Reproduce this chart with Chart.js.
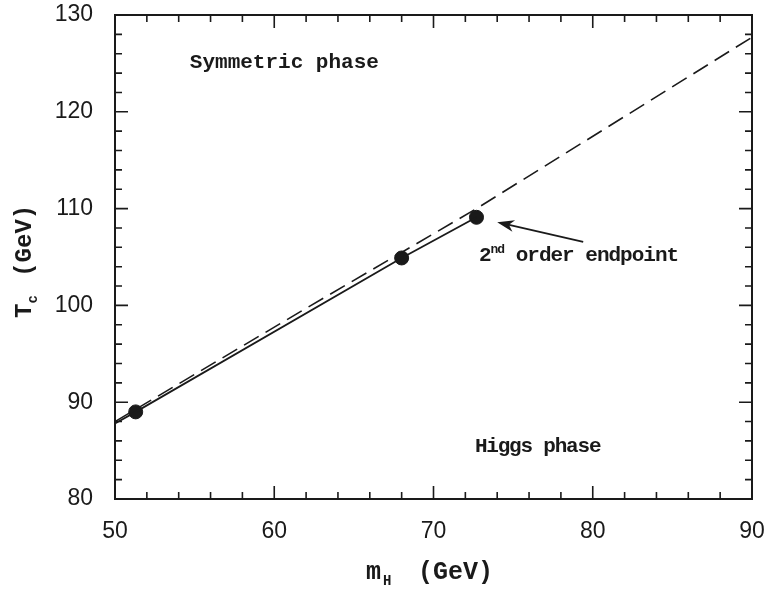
<!DOCTYPE html>
<html>
<head>
<meta charset="utf-8">
<script src="https://cdn.jsdelivr.net/npm/chart.js@4.4.1/dist/chart.umd.min.js"></script>
<style>
  html, body { margin: 0; padding: 0; background: #fff; }
  #wrap { width: 765px; height: 591px; }
</style>
</head>
<body>
<div id="wrap"><canvas id="tcChart"></canvas></div>
<script>
// critical temperature vs Higgs mass
var pointMass = [51.3, 68.0, 72.7];
var pointTc = [89.0, 104.9, 109.1];

var solidMass = [50, 51.3, 68.0, 72.7];
var solidTc = [87.8, 89.0, 104.9, 109.1];

var dashedMass = [50, 62, 72.7, 90];
var dashedTc = [88.0, 99.7, 110.0, 127.7];

var xTicks = [50, 60, 70, 80, 90];
var yTicks = [80, 90, 100, 110, 120, 130];

var labelFont = "bold 21px 'Liberation Mono', 'Courier New', monospace";
var ink = '#1a1a1a';

function toXY(xs, ys) {
     return xs.map(function (x, i) { return { x: x, y: ys[i] }; });
}

// draws text pieces one after another (for sub/superscripts)
function drawParts(ctx, parts, x, y) {
     var cx = x;
     parts.forEach(function (p) {
          ctx.font = p.font;
          ctx.fillText(p.text, cx, y + (p.dy || 0));
          cx += ctx.measureText(p.text).width + (p.gap || 0);
     });
}

var framePlugin = {
     id: 'frame',
     afterDraw: function (chart) {
          var ctx = chart.ctx;
          var a = chart.chartArea;
          var xs = chart.scales.x, ys = chart.scales.y;
          ctx.save();
          ctx.strokeStyle = ink;
          ctx.fillStyle = ink;

          // box
          ctx.lineWidth = 2;
          ctx.strokeRect(a.left, a.top, a.right - a.left, a.bottom - a.top);

          // inward ticks on all four sides
          ctx.lineWidth = 1.6;
          ctx.beginPath();
          for (var v = 50; v <= 90; v += 2) {
               var px = xs.getPixelForValue(v);
               var len = v % 10 === 0 ? 13 : 7;
               ctx.moveTo(px, a.bottom); ctx.lineTo(px, a.bottom - len);
               ctx.moveTo(px, a.top); ctx.lineTo(px, a.top + len);
          }
          for (var w = 80; w <= 130; w += 2) {
               var py = ys.getPixelForValue(w);
               var len2 = w % 10 === 0 ? 13 : 7;
               ctx.moveTo(a.left, py); ctx.lineTo(a.left + len2, py);
               ctx.moveTo(a.right, py); ctx.lineTo(a.right - len2, py);
          }
          ctx.stroke();

          // arrow to the endpoint
          var x1 = xs.getPixelForValue(79.4), y1 = ys.getPixelForValue(106.55);
          var x2 = xs.getPixelForValue(74.0), y2 = ys.getPixelForValue(108.6);
          var ang = Math.atan2(y2 - y1, x2 - x1);
          ctx.lineWidth = 1.8;
          ctx.beginPath();
          ctx.moveTo(x1, y1);
          ctx.lineTo(x2 - 10 * Math.cos(ang), y2 - 10 * Math.sin(ang));
          ctx.stroke();
          ctx.beginPath();
          ctx.moveTo(x2, y2);
          ctx.lineTo(x2 - 17 * Math.cos(ang) + 6 * Math.sin(ang), y2 - 17 * Math.sin(ang) - 6 * Math.cos(ang));
          ctx.lineTo(x2 - 12 * Math.cos(ang), y2 - 12 * Math.sin(ang));
          ctx.lineTo(x2 - 17 * Math.cos(ang) - 6 * Math.sin(ang), y2 - 17 * Math.sin(ang) + 6 * Math.cos(ang));
          ctx.closePath();
          ctx.fill();

          // region labels
          ctx.textAlign = 'left';
          ctx.textBaseline = 'alphabetic';
          ctx.font = labelFont;
          ctx.fillText('Symmetric phase', xs.getPixelForValue(54.7), ys.getPixelForValue(124.5));
          ctx.letterSpacing = '-1.2px';
          ctx.fillText('Higgs phase', xs.getPixelForValue(72.6), ys.getPixelForValue(84.9));
          ctx.letterSpacing = '-1px';
          drawParts(ctx, [
               { text: '2', font: labelFont },
               { text: 'nd', font: "bold 13px 'Liberation Mono', monospace", dy: -8 },
               { text: ' order endpoint', font: labelFont }
          ], xs.getPixelForValue(72.85), ys.getPixelForValue(104.6));
          ctx.letterSpacing = '0px';

          // axis titles
          var titleFont = "bold 25px 'Liberation Mono', 'Courier New', monospace";
          var subFont = "bold 14px 'Liberation Mono', monospace";
          ctx.font = titleFont;
          ctx.fillText('m', 366, 579);
          ctx.font = subFont;
          ctx.fillText('H', 383, 585);
          ctx.font = titleFont;
          ctx.fillText('(GeV)', 418, 579);

          ctx.translate(31, 318);
          ctx.rotate(-Math.PI / 2);
          drawParts(ctx, [
               { text: 'T', font: "bold 24px 'Liberation Mono', monospace", gap: 0 },
               { text: 'c', font: subFont, dy: 6, gap: 4 },
               { text: ' (GeV)', font: "bold 24px 'Liberation Mono', monospace" }
          ], 0, 0);
          ctx.restore();
     }
};

new Chart('tcChart', {
     type: 'scatter',
     data: {
          datasets: [
               {
                    label: 'dashed',
                    data: toXY(dashedMass, dashedTc),
                    showLine: true,
                    borderColor: ink,
                    borderWidth: 1.6,
                    borderDash: [17, 8],
                    pointRadius: 0,
                    fill: false
               },
               {
                    label: 'solid',
                    data: toXY(solidMass, solidTc),
                    showLine: true,
                    borderColor: ink,
                    borderWidth: 1.8,
                    pointRadius: 0,
                    fill: false
               },
               {
                    label: 'points',
                    data: toXY(pointMass, pointTc),
                    pointRadius: 7,
                    pointBackgroundColor: ink,
                    pointBorderColor: ink,
                    showLine: false
               }
          ]
     },
     plugins: [framePlugin],
     options: {
          responsive: true,
          maintainAspectRatio: false,
          animation: false,
          events: [],
          layout: { padding: { top: 15, right: 13, left: 0, bottom: 0 } },
          plugins: {
               legend: { display: false },
               tooltip: { enabled: false }
          },
          scales: {
               x: {
                    type: 'linear',
                    min: 50,
                    max: 90,
                    afterBuildTicks: function (s) { s.ticks = xTicks.map(function (v) { return { value: v }; }); },
                    afterFit: function (s) { s.height = 92; s.paddingLeft = 0; s.paddingRight = 0; },
                    grid: { display: false, drawTicks: false },
                    border: { display: false },
                    ticks: {
                         padding: 19,
                         color: ink,
                         font: { family: "'Liberation Sans', Arial, sans-serif", size: 23 }
                    }
               },
               y: {
                    type: 'linear',
                    min: 80,
                    max: 130,
                    afterBuildTicks: function (s) { s.ticks = yTicks.map(function (v) { return { value: v }; }); },
                    afterFit: function (s) { s.width = 115; s.paddingTop = 0; s.paddingBottom = 0; },
                    grid: { display: false, drawTicks: false },
                    border: { display: false },
                    ticks: {
                         padding: 22,
                         color: ink,
                         font: { family: "'Liberation Sans', Arial, sans-serif", size: 23 }
                    }
               }
          }
     }
});
</script>
</body>
</html>
